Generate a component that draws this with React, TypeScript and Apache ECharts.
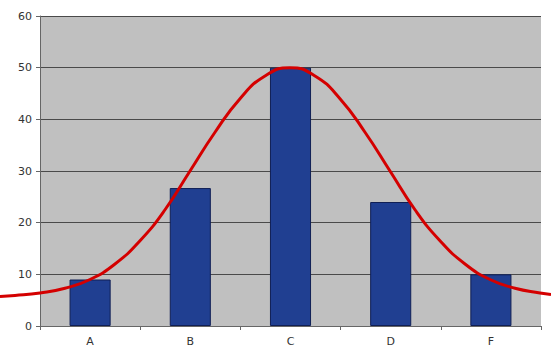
import React, { useEffect, useRef } from "react";
import * as echarts from "echarts";

const categories = ["A", "B", "C", "D", "F"];
const barValues = [9, 26.7, 50, 24, 10];
const yTicks = [0, 10, 20, 30, 40, 50, 60];
// curve: [position in category units, value]
const curveX = [-0.9, -0.75, -0.5, -0.25, 0, 0.25, 0.5, 0.75, 1, 1.25, 1.5, 1.75, 2, 2.25, 2.5, 2.75, 3, 3.25, 3.5, 3.75, 4, 4.25, 4.5, 4.61];
const curveY = [5.7, 5.9, 6.4, 7.3, 9, 12, 16.5, 22.5, 30, 37.5, 44, 48.4, 50, 48.4, 44, 37.5, 30, 22.5, 16.5, 12, 9, 7.3, 6.4, 6.1];

export default function App() {
  const ref = useRef<HTMLDivElement>(null);
  useEffect(() => {
    document.body.style.margin = "0";
    const chart = echarts.init(ref.current!, null, { renderer: "svg" });
    const font = "DejaVu Sans";
    chart.setOption({
      animation: false,
      backgroundColor: "#ffffff",
      grid: [
        { left: 40, right: 10, top: 16, bottom: 27, show: true, backgroundColor: "#c0c0c0", borderWidth: 0 },
        { left: 0, right: 0, top: 16, bottom: 27, show: false },
      ],
      xAxis: [
        {
          type: "category",
          gridIndex: 0,
          data: categories,
          boundaryGap: true,
          axisLine: { show: true, lineStyle: { color: "#666", width: 1 } },
          axisTick: { show: true, length: 4, lineStyle: { color: "#666" } },
          axisLabel: { color: "#333", fontFamily: font, fontSize: 11, margin: 10 },
          splitLine: { show: false },
        },
        { type: "value", gridIndex: 1, min: -0.9, max: 4.61, show: false },
      ],
      yAxis: [
        {
          type: "value",
          gridIndex: 0,
          min: 0,
          max: 60,
          interval: 10,
          axisLine: { show: true, lineStyle: { color: "#666", width: 1 } },
          axisTick: { show: true, length: 4, lineStyle: { color: "#666" } },
          axisLabel: {
            color: "#333",
            fontFamily: font,
            fontSize: 11,
            margin: 8,
            formatter: (v: number) => (yTicks.includes(v) ? String(v) : ""),
          },
          splitLine: { show: true, lineStyle: { color: "#4a4a4a", width: 1 } },
        },
        { type: "value", gridIndex: 1, min: 0, max: 60, show: false },
      ],
      series: [
        {
          type: "bar",
          xAxisIndex: 0,
          yAxisIndex: 0,
          data: barValues,
          barCategoryGap: "59%",
          itemStyle: { color: "#203f91", borderColor: "#101f55", borderWidth: 1 },
          z: 2,
        },
        {
          type: "line",
          xAxisIndex: 1,
          yAxisIndex: 1,
          data: curveX.map((x, i) => [x, curveY[i]]),
          smooth: true,
          showSymbol: false,
          clip: false,
          lineStyle: { color: "#d40000", width: 3 },
          z: 5,
        },
      ],
    });
    return () => chart.dispose();
  }, []);
  return <div ref={ref} style={{ width: 551, height: 353 }} />;
}
